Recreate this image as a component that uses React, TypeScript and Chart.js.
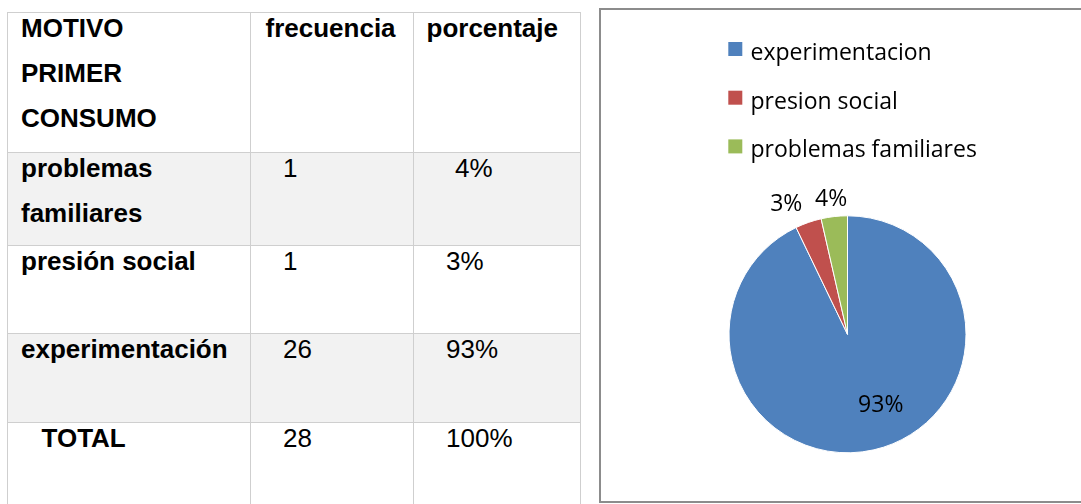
import React, { useEffect, useRef } from 'react';
import { Chart, registerables } from 'chart.js';

Chart.register(...registerables);

// ---- Data ----
const chartLabels = ['experimentacion', 'presion social', 'problemas familiares'];
const chartValues = [26, 1, 1];
const chartPercentLabels = ['93%', '3%', '4%'];
const chartColors = ['#4f81bd', '#c0504d', '#9bbb59'];

const headerMotivo = 'MOTIVO PRIMER CONSUMO';
const headerFrecuencia = 'frecuencia';
const headerPorcentaje = 'porcentaje';
const tableMotivos = ['problemas familiares', 'presión social', 'experimentación', 'TOTAL'];
const tableFrecuencias = ['1', '1', '26', '28'];
const tablePorcentajes = ['4%', '3%', '93%', '100%'];

// ---- Styling / layout ----
const LEGEND_FONT = 23;
const LABEL_FONT = 23;
const FONT_FAMILY = '"Open Sans", "Noto Sans", sans-serif';

const legendSquares = {
  id: 'legendSquares',
  afterDraw(chart: any, _args: any, opts: any) {
    const legend = chart.legend;
    if (!legend || !legend.legendHitBoxes) return;
    const ctx = chart.ctx;
    const bw = legend.options.labels.boxWidth || 0;
    legend.legendItems.forEach((item: any, i: number) => {
      const hb = legend.legendHitBoxes[i];
      if (!hb) return;
      const textX = hb.left + bw + LEGEND_FONT / 2;
      const midY = hb.top + LEGEND_FONT / 2;
      ctx.save();
      ctx.fillStyle = item.fillStyle;
      ctx.fillRect(textX - opts.gap - opts.size, midY + opts.dy - opts.size / 2, opts.size, opts.size);
      ctx.restore();
    });
  },
};

const sliceLabels = {
  id: 'sliceLabels',
  afterDatasetsDraw(chart: any, _args: any, opts: any) {
    const meta = chart.getDatasetMeta(0);
    const ctx = chart.ctx;
    ctx.save();
    ctx.font = `${LABEL_FONT}px ${FONT_FAMILY}`;
    ctx.fillStyle = opts.color;
    ctx.textAlign = 'center';
    ctx.textBaseline = 'alphabetic';
    const capH = ctx.measureText('9').actualBoundingBoxAscent;
    meta.data.forEach((arc: any, i: number) => {
      const { x, y, startAngle, endAngle, outerRadius } = arc.getProps(
        ['x', 'y', 'startAngle', 'endAngle', 'outerRadius'],
        true
      );
      const p = opts.placement[i];
      const a = startAngle + p.along * (endAngle - startAngle);
      const r = outerRadius * p.radial;
      const cx = x + Math.cos(a) * r;
      const cy = y + Math.sin(a) * r;
      ctx.fillText(chartPercentLabels[i], cx, cy + capH / 2);
    });
    ctx.restore();
  },
};

function PieChart() {
  const ref = useRef<HTMLCanvasElement | null>(null);
  useEffect(() => {
    if (!ref.current) return;
    const chart = new Chart(ref.current, {
      type: 'pie',
      data: {
        labels: chartLabels,
        datasets: [
          {
            data: chartValues,
            backgroundColor: chartColors,
            borderColor: '#ffffff',
            borderWidth: 1,
            radius: 118.5,
          } as any,
        ],
      },
      options: {
        responsive: false,
        animation: false,
        layout: { padding: { left: 112.3, right: 99.3, top: 6.1, bottom: 4.6 } },
        plugins: {
          legend: {
            position: 'top',
            align: 'start',
            labels: {
              boxWidth: 0,
              boxHeight: 0,
              padding: 25.7,
              color: '#000000',
              font: { family: FONT_FAMILY, size: LEGEND_FONT },
            },
          },
          tooltip: { enabled: false },
          legendSquares: { size: 14, gap: 22.2 - 14, dy: -4.3 },
          sliceLabels: {
            color: '#000000',
            placement: [
              { along: 0.462, radial: 0.65 },
              { along: 0.055, radial: 1.223 },
              { along: 0.47, radial: 1.16 },
            ],
          },
        } as any,
      },
      plugins: [legendSquares, sliceLabels],
    });
    return () => chart.destroy();
  }, []);
  return <canvas ref={ref} width={480} height={491} style={{ display: 'block', width: 480, height: 491 }} />;
}

const colX = [7, 250, 413, 580];
const rowY = [12, 152, 245, 333, 422, 512];
const shadedRows = [1, 3];
const TABLE_FONT = '"Liberation Sans", Arial, Helvetica, sans-serif';
const BORDER = '1px solid #cfcfcf';

function Cell(props: {
  col: number;
  row: number;
  pad: number;
  bold?: boolean;
  width?: number;
  children: React.ReactNode;
}) {
  const { col, row, pad, bold, width, children } = props;
  const left = colX[col];
  const top = rowY[row];
  const w = colX[col + 1] - left + 1;
  const h = rowY[row + 1] - top + 1;
  return (
    <div
      style={{
        position: 'absolute',
        left,
        top,
        width: w,
        height: h,
        boxSizing: 'border-box',
        border: BORDER,
        background: shadedRows.includes(row) ? '#f2f2f2' : '#ffffff',
      }}
    >
      <div
        style={{
          position: 'absolute',
          left: pad - 1,
          top: -7,
          width: width ?? 140,
          fontFamily: TABLE_FONT,
          fontSize: 26,
          lineHeight: '45px',
          fontWeight: bold ? 700 : 400,
          color: '#000000',
          whiteSpace: 'normal',
        }}
      >
        {children}
      </div>
    </div>
  );
}

export default function App() {
  return (
    <div
      style={{
        position: 'fixed',
        left: 0,
        top: 0,
        width: 1081,
        height: 504,
        overflow: 'hidden',
        background: '#ffffff',
      }}
    >
      {/* header */}
      <Cell col={0} row={0} pad={14} bold width={200}>
        {headerMotivo}
      </Cell>
      <Cell col={1} row={0} pad={15.5} bold>
        {headerFrecuencia}
      </Cell>
      <Cell col={2} row={0} pad={13.5} bold>
        {headerPorcentaje}
      </Cell>
      {tableMotivos.map((m, i) => (
        <React.Fragment key={m}>
          <Cell col={0} row={i + 1} pad={m === 'TOTAL' ? 34.5 : 14} bold width={200}>
            {m}
          </Cell>
          <Cell col={1} row={i + 1} pad={33}>
            {tableFrecuencias[i]}
          </Cell>
          <Cell col={2} row={i + 1} pad={tablePorcentajes[i] === '4%' ? 42 : 33}>
            {tablePorcentajes[i]}
          </Cell>
        </React.Fragment>
      ))}
      <div
        style={{
          position: 'absolute',
          left: 599,
          top: 8,
          width: 500,
          height: 495,
          boxSizing: 'border-box',
          border: '2px solid #8c8c8c',
          background: '#ffffff',
        }}
      >
        <div style={{ position: 'absolute', left: 0, top: 0 }}>
          <PieChart />
        </div>
      </div>
    </div>
  );
}
